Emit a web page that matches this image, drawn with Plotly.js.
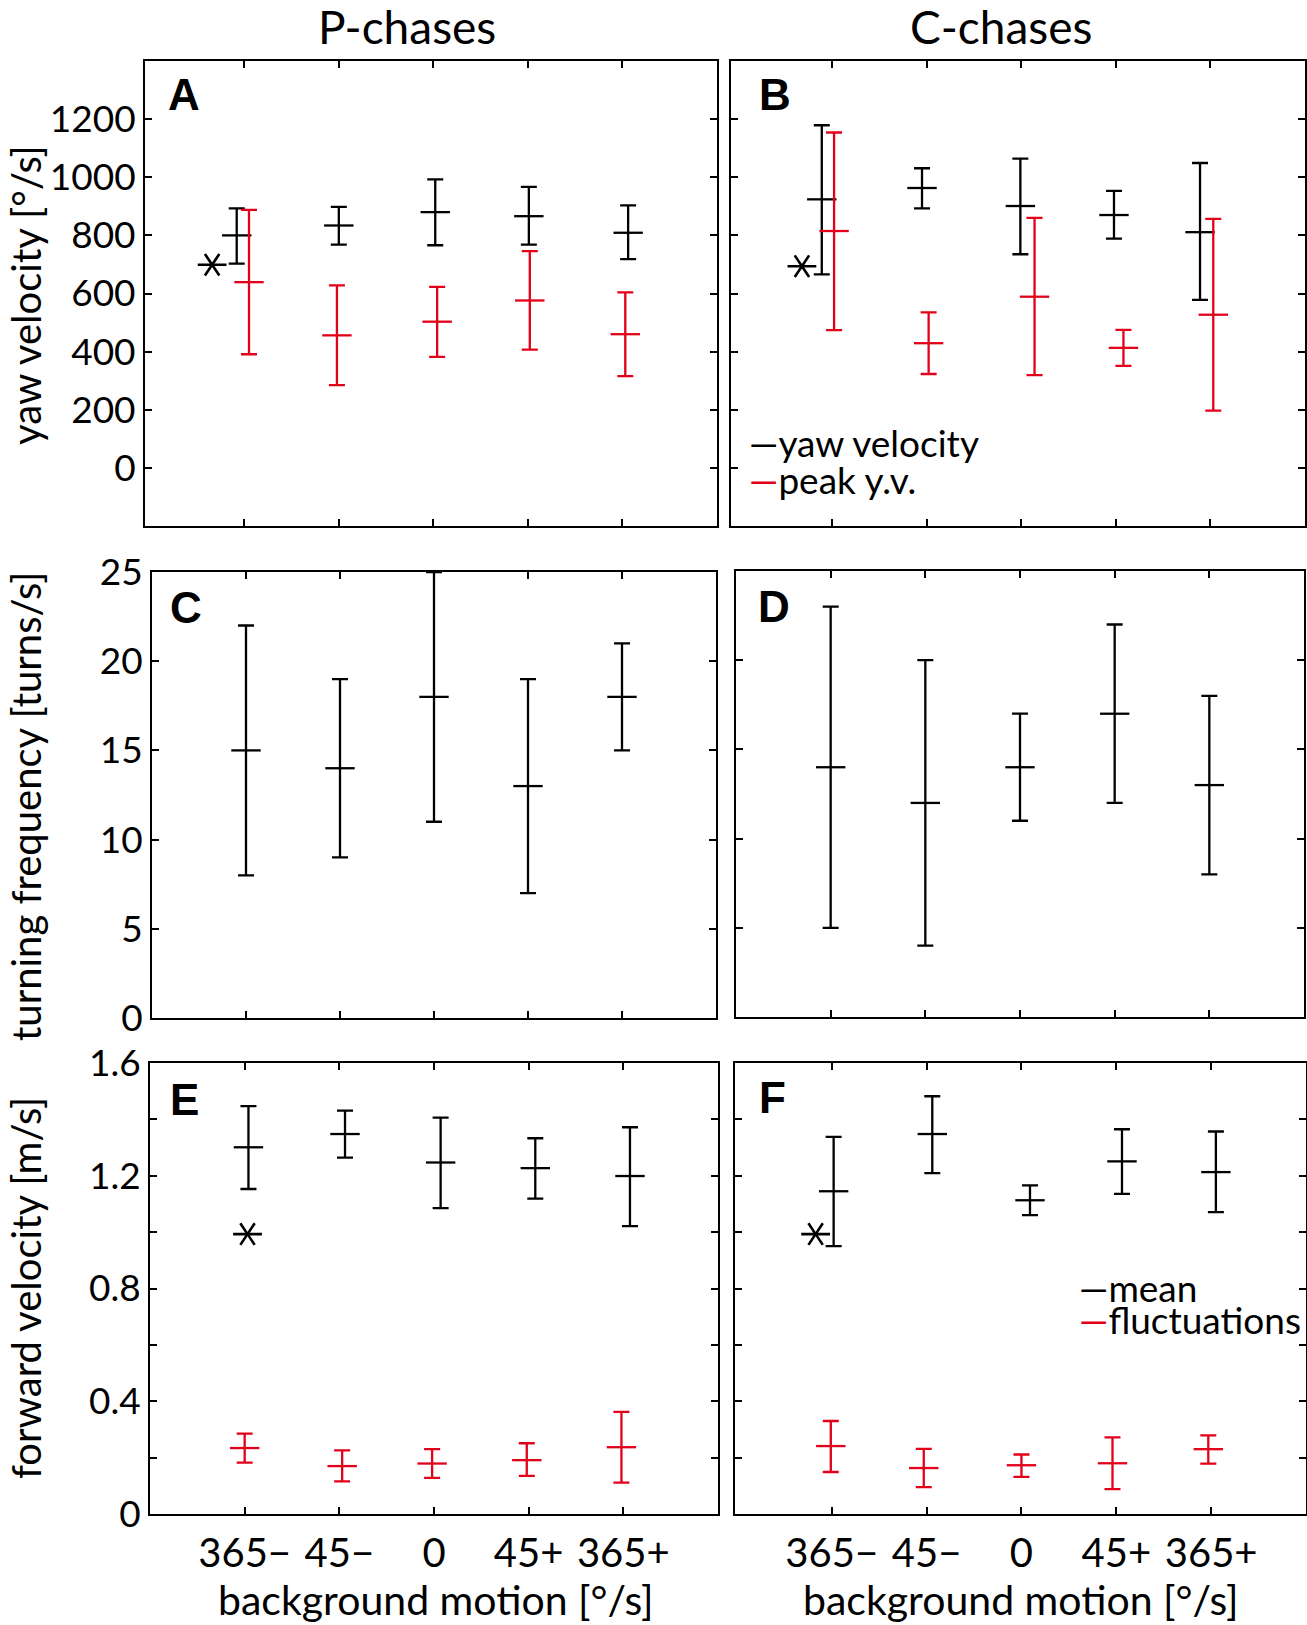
<!DOCTYPE html>
<html><head><meta charset="utf-8">
<script src="https://cdn.plot.ly/plotly-3.0.1.min.js"></script>
<style>body{margin:0;background:#fff}</style>
</head><body><div id="chart" style="width:1307px;height:1625px"></div>
<script>
// ---------------- data ----------------
const categories = ['365\u2212', '45\u2212', '0', '45+', '365+'];
const catPos = [1, 2, 3, 4, 5];

// A: P-chases, yaw velocity [deg/s]
const A_yaw_x    = [0.92, 2.00, 3.02, 4.01, 5.06];
const A_yaw_mean = [800, 834, 880, 866, 809];
const A_yaw_hi   = [893, 898, 993, 967, 903];
const A_yaw_lo   = [703, 768, 766, 768, 718];
const A_peak_x    = [1.05, 1.98, 3.04, 4.02, 5.03];
const A_peak_mean = [639, 456, 503, 576, 460];
const A_peak_hi   = [888, 628, 623, 746, 604];
const A_peak_lo   = [391, 285, 382, 407, 316];

// B: C-chases, yaw velocity [deg/s]
const B_yaw_x    = [0.89, 1.95, 2.99, 3.98, 4.89];
const B_yaw_mean = [924, 963, 901, 870, 811];
const B_yaw_hi   = [1179, 1031, 1064, 953, 1049];
const B_yaw_lo   = [666, 893, 735, 789, 578];
const B_peak_x    = [1.02, 2.02, 3.14, 4.08, 5.03];
const B_peak_mean = [815, 429, 589, 413, 527];
const B_peak_hi   = [1154, 535, 860, 475, 857];
const B_peak_lo   = [474, 323, 319, 351, 197];

// C: P-chases, turning frequency [turns/s]
const C_x    = [1, 2, 3, 4, 5];
const C_mean = [15, 14, 18, 13, 18];
const C_hi   = [22, 19, 25, 19, 21];
const C_lo   = [8, 9, 11, 7, 15];

// D: C-chases, turning frequency [turns/s]
const D_x    = [1, 2, 3, 4, 5];
const D_mean = [14, 12, 14, 17, 13];
const D_hi   = [23, 20, 17, 22, 18];
const D_lo   = [5, 4, 11, 12, 8];

// E: P-chases, forward velocity [m/s]
const E_mean_x   = [1.04, 2.06, 3.07, 4.07, 5.07];
const E_mean_val = [1.301, 1.348, 1.247, 1.227, 1.199];
const E_mean_hi  = [1.447, 1.431, 1.406, 1.333, 1.372];
const E_mean_lo  = [1.153, 1.264, 1.085, 1.119, 1.021];
const E_fluc_x   = [1.00, 2.03, 2.98, 3.98, 4.98];
const E_fluc_val = [0.234, 0.170, 0.179, 0.191, 0.237];
const E_fluc_hi  = [0.285, 0.226, 0.230, 0.251, 0.362];
const E_fluc_lo  = [0.182, 0.116, 0.128, 0.135, 0.111];

// F: C-chases, forward velocity [m/s]
const F_mean_x   = [1.02, 2.06, 3.09, 4.06, 5.05];
const F_mean_val = [1.145, 1.348, 1.113, 1.251, 1.213];
const F_mean_hi  = [1.338, 1.482, 1.166, 1.365, 1.357];
const F_mean_lo  = [0.950, 1.209, 1.060, 1.136, 1.071];
const F_fluc_x   = [0.99, 1.97, 3.00, 3.96, 4.97];
const F_fluc_val = [0.241, 0.163, 0.173, 0.180, 0.230];
const F_fluc_hi  = [0.330, 0.231, 0.211, 0.272, 0.279];
const F_fluc_lo  = [0.149, 0.095, 0.132, 0.088, 0.179];

// significance asterisks [x, y]
const A_star = [0.66, 699];
const B_star = [0.68, 694];
const E_star = [1.03, 0.993];
const F_star = [0.83, 0.993];

// tick labels
const yawTicks = [0, 200, 400, 600, 800, 1000, 1200];
const yawTickText = ['0', '200', '400', '600', '800', '1000', '1200'];
const turnTicks = [0, 5, 10, 15, 20, 25];
const turnTickText = ['0', '5', '10', '15', '20', '25'];
const fwdTicks = [0, 0.2, 0.4, 0.6, 0.8, 1.0, 1.2, 1.4, 1.6];
const fwdTickText = ['0', '', '0.4', '', '0.8', '', '1.2', '', '1.6'];

// ---------------- drawing ----------------
const W = 1307, H = 1625;
const FONT = 'Lato, "Open Sans", sans-serif';
const BLACK = '#000000', RED = '#e3001b';
const fx = p => p / W;
const fy = p => 1 - p / H;

function errTrace(x, mean, hi, lo, color, ax) {
  return {
    type: 'scatter', mode: 'markers', x: x, y: mean,
    xaxis: 'x' + ax, yaxis: 'y' + ax, cliponaxis: false, hoverinfo: 'skip',
    marker: {symbol: 'line-ew-open', size: 21, color: color, line: {width: 2.3, color: color}},
    error_y: {
      type: 'data', symmetric: false,
      array: hi.map((h, i) => h - mean[i]),
      arrayminus: lo.map((l, i) => mean[i] - l),
      color: color, thickness: 2.3, width: 8
    },
    showlegend: false
  };
}
function starTraces(pt, ax) {
  return ['y-left-open', 'y-right-open'].map(s => ({
    type: 'scatter', mode: 'markers', x: [pt[0]], y: [pt[1]],
    xaxis: 'x' + ax, yaxis: 'y' + ax, cliponaxis: false, hoverinfo: 'skip',
    marker: {symbol: s, size: 18, color: BLACK, line: {width: 2.6, color: BLACK}},
    showlegend: false
  }));
}

const data = [
  errTrace(A_yaw_x, A_yaw_mean, A_yaw_hi, A_yaw_lo, BLACK, ''),
  errTrace(A_peak_x, A_peak_mean, A_peak_hi, A_peak_lo, RED, ''),
  ...starTraces(A_star, ''),
  errTrace(B_yaw_x, B_yaw_mean, B_yaw_hi, B_yaw_lo, BLACK, '2'),
  errTrace(B_peak_x, B_peak_mean, B_peak_hi, B_peak_lo, RED, '2'),
  ...starTraces(B_star, '2'),
  errTrace(C_x, C_mean, C_hi, C_lo, BLACK, '3'),
  errTrace(D_x, D_mean, D_hi, D_lo, BLACK, '4'),
  errTrace(E_mean_x, E_mean_val, E_mean_hi, E_mean_lo, BLACK, '5'),
  errTrace(E_fluc_x, E_fluc_val, E_fluc_hi, E_fluc_lo, RED, '5'),
  ...starTraces(E_star, '5'),
  errTrace(F_mean_x, F_mean_val, F_mean_hi, F_mean_lo, BLACK, '6'),
  errTrace(F_fluc_x, F_fluc_val, F_fluc_hi, F_fluc_lo, RED, '6'),
  ...starTraces(F_star, '6')
];

function xAxis(left, right, range, labels, anchor) {
  const a = {
    domain: [fx(left), fx(right)], range: range, anchor: anchor,
    showline: true, linecolor: BLACK, linewidth: 2, mirror: 'ticks',
    ticks: 'inside', ticklen: 7, tickwidth: 2, tickcolor: BLACK,
    showgrid: false, zeroline: false, fixedrange: true,
    tickmode: 'array', tickvals: catPos, ticktext: categories,
    showticklabels: labels,
    tickfont: {family: FONT, size: 40, color: BLACK}
  };
  if (labels) a.ticklabelstandoff = 3;
  return a;
}
function yAxis(top, bottom, range, vals, text, labels, anchor) {
  return {
    domain: [fy(bottom), fy(top)], range: range, anchor: anchor,
    showline: true, linecolor: BLACK, linewidth: 2, mirror: 'ticks',
    ticks: 'inside', ticklen: 7, tickwidth: 2, tickcolor: BLACK,
    showgrid: false, zeroline: false, fixedrange: true,
    tickmode: 'array', tickvals: vals, ticktext: text,
    showticklabels: labels, ticklabelstandoff: 0,
    tickfont: {family: FONT, size: 37, color: BLACK}
  };
}

function txt(text, x, y, size, opts) {
  return Object.assign({
    text: text, xref: 'paper', yref: 'paper', x: fx(x), y: fy(y),
    showarrow: false, xanchor: 'center', yanchor: 'middle',
    font: {family: FONT, size: size, color: BLACK}
  }, opts || {});
}
const letterFont = {family: 'Liberation Sans, Arial, sans-serif', size: 44, color: BLACK, weight: 'bold'};
function letter(t, x, y) {
  return txt('<b>' + t + '</b>', x, y, 44, {xanchor: 'left', font: letterFont});
}
const dashB = '<span style="color:#000000">\u2014</span>';
const dashR = '<span style="color:#e3001b">\u2014</span>';

const layout = {
  width: W, height: H,
  margin: {l: 0, r: 0, t: 0, b: 0},
  paper_bgcolor: '#ffffff', plot_bgcolor: '#ffffff',
  showlegend: false,
  font: {family: FONT, color: BLACK},
  xaxis:  xAxis(145, 717, [-0.05, 6], false, 'y'),
  yaxis:  yAxis(61, 526, [-200, 1400], yawTicks, yawTickText, true, 'x'),
  xaxis2: xAxis(731, 1305, [-0.07, 6], false, 'y2'),
  yaxis2: yAxis(61, 526, [-200, 1400], yawTicks, yawTickText, false, 'x2'),
  xaxis3: xAxis(152, 716, [0, 6], false, 'y3'),
  yaxis3: yAxis(572, 1018, [0, 25], turnTicks, turnTickText, true, 'x3'),
  xaxis4: xAxis(736, 1304, [0, 6], false, 'y4'),
  yaxis4: yAxis(571, 1017, [0, 25], turnTicks, turnTickText, false, 'x4'),
  xaxis5: xAxis(150, 718, [0, 6], true, 'y5'),
  yaxis5: yAxis(1063, 1514, [0, 1.6], fwdTicks, fwdTickText, true, 'x5'),
  xaxis6: xAxis(735, 1306, [-0.02, 6], true, 'y6'),
  yaxis6: yAxis(1063, 1514, [0, 1.6], fwdTicks, fwdTickText, false, 'x6'),
  annotations: [
    txt('P-chases', 407, 27, 46),
    txt('C-chases', 1001, 27, 46),
    txt('yaw velocity [°/s]', 26, 295, 40, {textangle: -90}),
    txt('turning frequency [turns/s]', 26, 807, 40, {textangle: -90}),
    txt('forward velocity [m/s]', 26, 1288, 40, {textangle: -90}),
    txt('background motion [°/s]', 436, 1599, 41),
    txt('background motion [°/s]', 1021, 1599, 41),
    letter('A', 166, 94),
    letter('B', 757, 94),
    letter('C', 168, 607),
    letter('D', 756, 606),
    letter('E', 168, 1099),
    letter('F', 757, 1097),
    txt(dashB + 'yaw velocity', 747, 443, 37, {xanchor: 'left'}),
    txt(dashR + 'peak y.v.', 747, 480, 37, {xanchor: 'left'}),
    txt(dashB + 'mean', 1077, 1287, 37, {xanchor: 'left'}),
    txt(dashR + 'fluctuations', 1077, 1319, 37, {xanchor: 'left'})
  ]
};

Plotly.newPlot('chart', data, layout, {staticPlot: true, displayModeBar: false});
</script>
</body></html>
